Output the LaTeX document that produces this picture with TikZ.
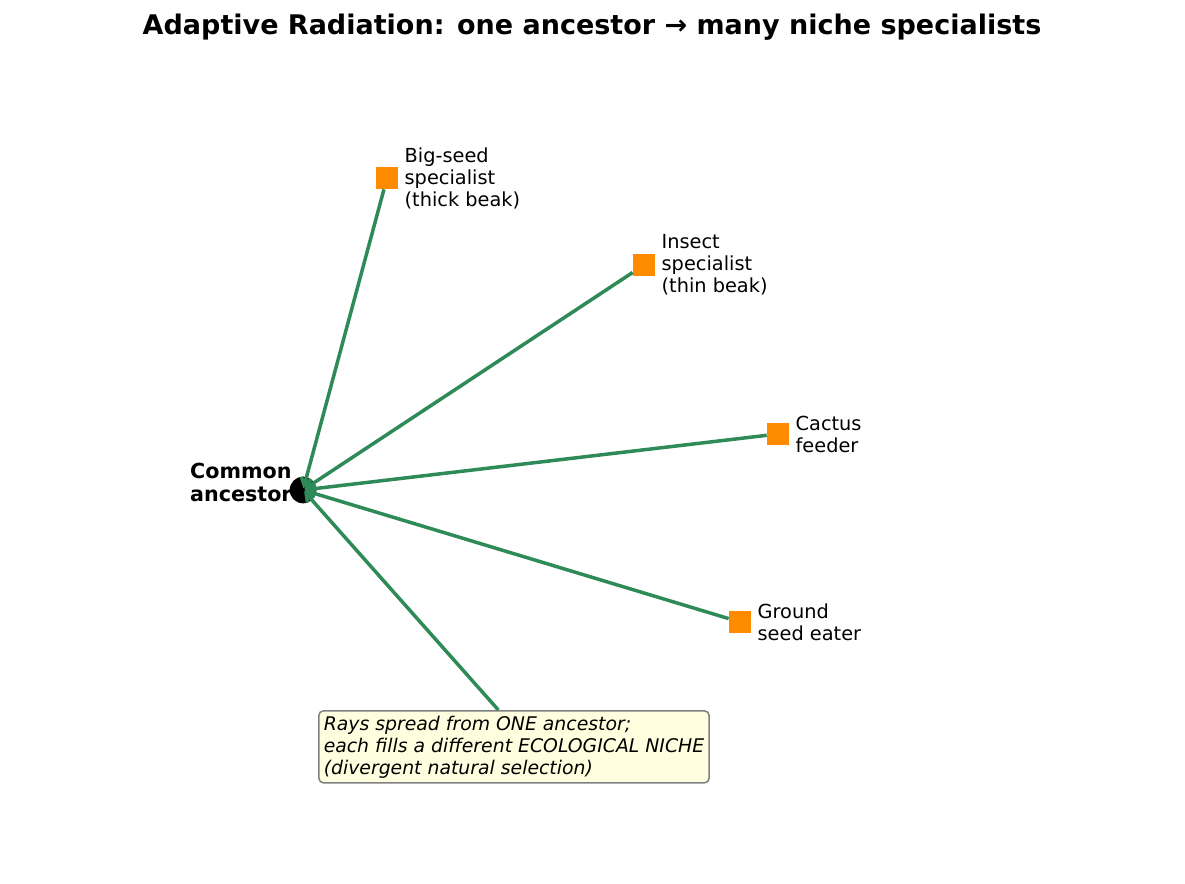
\documentclass[tikz,border=0pt]{standalone}
\usepackage{fontspec}
\setmainfont{DejaVu Sans}
\usetikzlibrary{arrows.meta,backgrounds,positioning}
\definecolor{RadGreen}{HTML}{2E8B57}
\definecolor{RadOrange}{HTML}{FF8C00}
\definecolor{RadNote}{HTML}{FFFFE0}
\definecolor{RadRule}{HTML}{808080}
\tikzset{
  rad/niche/.style={fill=RadOrange, minimum size=13.2pt, inner sep=0pt},
  rad/label/.style={
    font=\fontsize{11.6}{13.2}\selectfont, align=left,
    inner sep=0pt, right=3.6pt of #1
  },
  rad/ray/.style={
    -{Straight Barb[length=4.5pt,width=6pt]}, line width=2.1pt,
    draw=RadGreen, shorten >=1pt
  },
  rad/note/.style={
    draw=RadRule, line width=0.9pt, fill=RadNote, rounded corners=3pt,
    font=\fontsize{11.3}{13.2}\selectfont\itshape, align=left,
    inner xsep=3pt, inner ysep=3pt
  }
}
\begin{document}
\begin{tikzpicture}[x=0.6pt,y=-0.6pt]
  \useasboundingbox (0,0) rectangle (1185,884);
  \node[font=\fontsize{16.2}{19}\selectfont\bfseries] (title) at (592,27)
    {Adaptive Radiation: one ancestor → many niche specialists};
  \begin{scope}[on background layer]
    \node[font=\fontsize{12.4}{13.8}\selectfont\bfseries, align=left, inner sep=0pt,
      anchor=east] (anclabel) at (292,482) {Common\\ancestor};
    \node[circle, fill=black, minimum size=16pt, inner sep=0pt] (anc) at (303,490) {};
  \end{scope}
  \node[rad/niche] (bigseed) at (387,178) {};
  \node[rad/niche] (insect) at (644,265) {};
  \node[rad/niche] (cactus) at (778,434) {};
  \node[rad/niche] (ground) at (740,622) {};
  \node[rad/label=bigseed] (bigseedlabel) {Big-seed\\specialist\\(thick beak)};
  \node[rad/label=insect] (insectlabel) {Insect\\specialist\\(thin beak)};
  \node[rad/label=cactus] (cactuslabel) {Cactus\\feeder};
  \node[rad/label=ground] (groundlabel) {Ground\\seed eater};
  \node[rad/note, anchor=north west] (note) at (318,710)
    {Rays spread from ONE ancestor;\\each fills a different ECOLOGICAL NICHE\\(divergent natural selection)};
  \draw[rad/ray] (bigseed) -- (anc.center);
  \draw[rad/ray] (insect) -- (anc.center);
  \draw[rad/ray] (cactus) -- (anc.center);
  \draw[rad/ray] (ground) -- (anc.center);
  \draw[rad/ray] (note.113) -- (anc.center);
\end{tikzpicture}
\end{document}
